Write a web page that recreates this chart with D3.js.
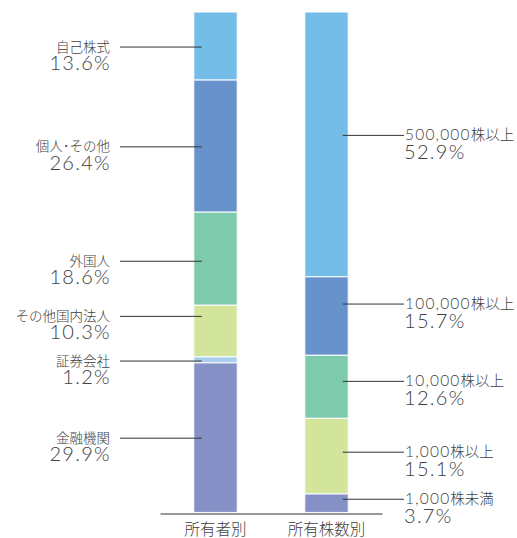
<!DOCTYPE html>
<html><head><meta charset="utf-8">
<script src="https://cdn.jsdelivr.net/npm/d3@7"></script>
<style>
html,body{margin:0;padding:0;background:#fff;}
text{font-family:"Noto Sans CJK JP","Noto Sans",sans-serif;fill:#404040;}
.lat{font-family:Lato,"Noto Sans",sans-serif;font-weight:300;}
</style></head>
<body>
<svg id="c" width="517" height="538"></svg>
<script>
// ---- data ----
const bars = ["所有者別", "所有株数別"];
const ownerCats = ["自己株式", "個人･その他", "外国人", "その他国内法人", "証券会社", "金融機関"];
const ownerVals = [13.6, 26.4, 18.6, 10.3, 1.2, 29.9];
const sizeCats = ["500,000株以上", "100,000株以上", "10,000株以上", "1,000株以上", "1,000株未満"];
const sizeVals = [52.9, 15.7, 12.6, 15.1, 3.7];

// ---- styles / layout ----
const ownerColors = ["#74bde8", "#6892cb", "#7ecaad", "#d3e49b", "#a9cdec", "#8490c6"];
const sizeColors = ["#74bde8", "#6892cb", "#7ecaad", "#d3e49b", "#8490c6"];
const ownerLabelShift = [1, 0.7, 2.5, -14.7, 1.2, 0.5];   // px offsets of leader lines
const sizeLabelShift = [-9, -12, -5.5, -4, -4];

const svg = d3.select("#c");
const x = d3.scaleBand().domain(bars).range([160, 382]).paddingInner(0.608).paddingOuter(0.304);
const y = d3.scaleLinear().domain([0, 100]).range([12, 512.5]);

function stackOf(vals) {
  let acc = 0;
  return vals.map(v => { const s = {y0: acc, y1: acc + v, v}; acc += v; return s; });
}

// write text with latin runs in a lighter, wider-spaced face
function richText(t, str, spacing, size) {
  const parts = str.match(/[\x00-\x7F]+|[^\x00-\x7F]+/g);
  parts.forEach(p => {
    const ts = t.append("tspan").text(p);
    if (/^[\x00-\x7F]+$/.test(p)) ts.attr("class", "lat").attr("letter-spacing", spacing).attr("font-size", size);
  });
}

function drawBar(name, cats, vals, colors, shifts, side) {
  const st = stackOf(vals);
  const bx = x(name), bw = x.bandwidth();
  const g = svg.append("g");
  g.selectAll("rect").data(st).join("rect")
    .attr("x", bx).attr("width", bw)
    .attr("y", d => y(d.y0)).attr("height", d => y(d.y1) - y(d.y0))
    .attr("fill", (d, i) => colors[i])
    .attr("stroke", "#ffffff").attr("stroke-width", 1.2).attr("stroke-opacity", 0.85);

  st.forEach((d, i) => {
    const ly = (y(d.y0) + y(d.y1)) / 2 + shifts[i];
    if (side === "left") {
      g.append("line").attr("x1", 120).attr("x2", bx + 8).attr("y1", ly).attr("y2", ly)
        .attr("stroke", "#333").attr("stroke-width", 1);
      g.append("text").attr("x", 110).attr("y", ly + 4.5).attr("text-anchor", "end")
        .attr("font-size", 13.5).attr("font-weight", 300).text(cats[i]);
      g.append("text").attr("class", "lat").attr("x", 111).attr("y", ly + 23).attr("text-anchor", "end")
        .attr("font-size", 20).attr("letter-spacing", 1.3)
        .text(d.v.toFixed(1) + "%");
    } else {
      g.append("line").attr("x1", bx + bw - 5.5).attr("x2", 404).attr("y1", ly).attr("y2", ly)
        .attr("stroke", "#333").attr("stroke-width", 1);
      const t = g.append("text").attr("x", 405).attr("y", ly + 5).attr("text-anchor", "start")
        .attr("font-size", 14.5).attr("font-weight", 300);
      richText(t, cats[i], 1.2, 15.5);
      g.append("text").attr("class", "lat").attr("x", 404).attr("y", ly + 24).attr("text-anchor", "start")
        .attr("font-size", 20).attr("letter-spacing", 1.3)
        .text(d.v.toFixed(1) + "%");
    }
  });
}

drawBar(bars[0], ownerCats, ownerVals, ownerColors, ownerLabelShift, "left");
drawBar(bars[1], sizeCats, sizeVals, sizeColors, sizeLabelShift, "right");

// baseline axis
const axis = d3.axisBottom(x).tickSize(0).tickPadding(10);
const ag = svg.append("g").attr("transform", "translate(0,513.5)").call(axis);
ag.select(".domain").attr("stroke", "#333").attr("stroke-width", 1.2);
ag.selectAll("text").attr("font-size", 15.5).attr("fill", "#404040").attr("font-weight", 300)
  .style("font-family", '"Noto Sans CJK JP","Noto Sans",sans-serif');
</script>
</body></html>
